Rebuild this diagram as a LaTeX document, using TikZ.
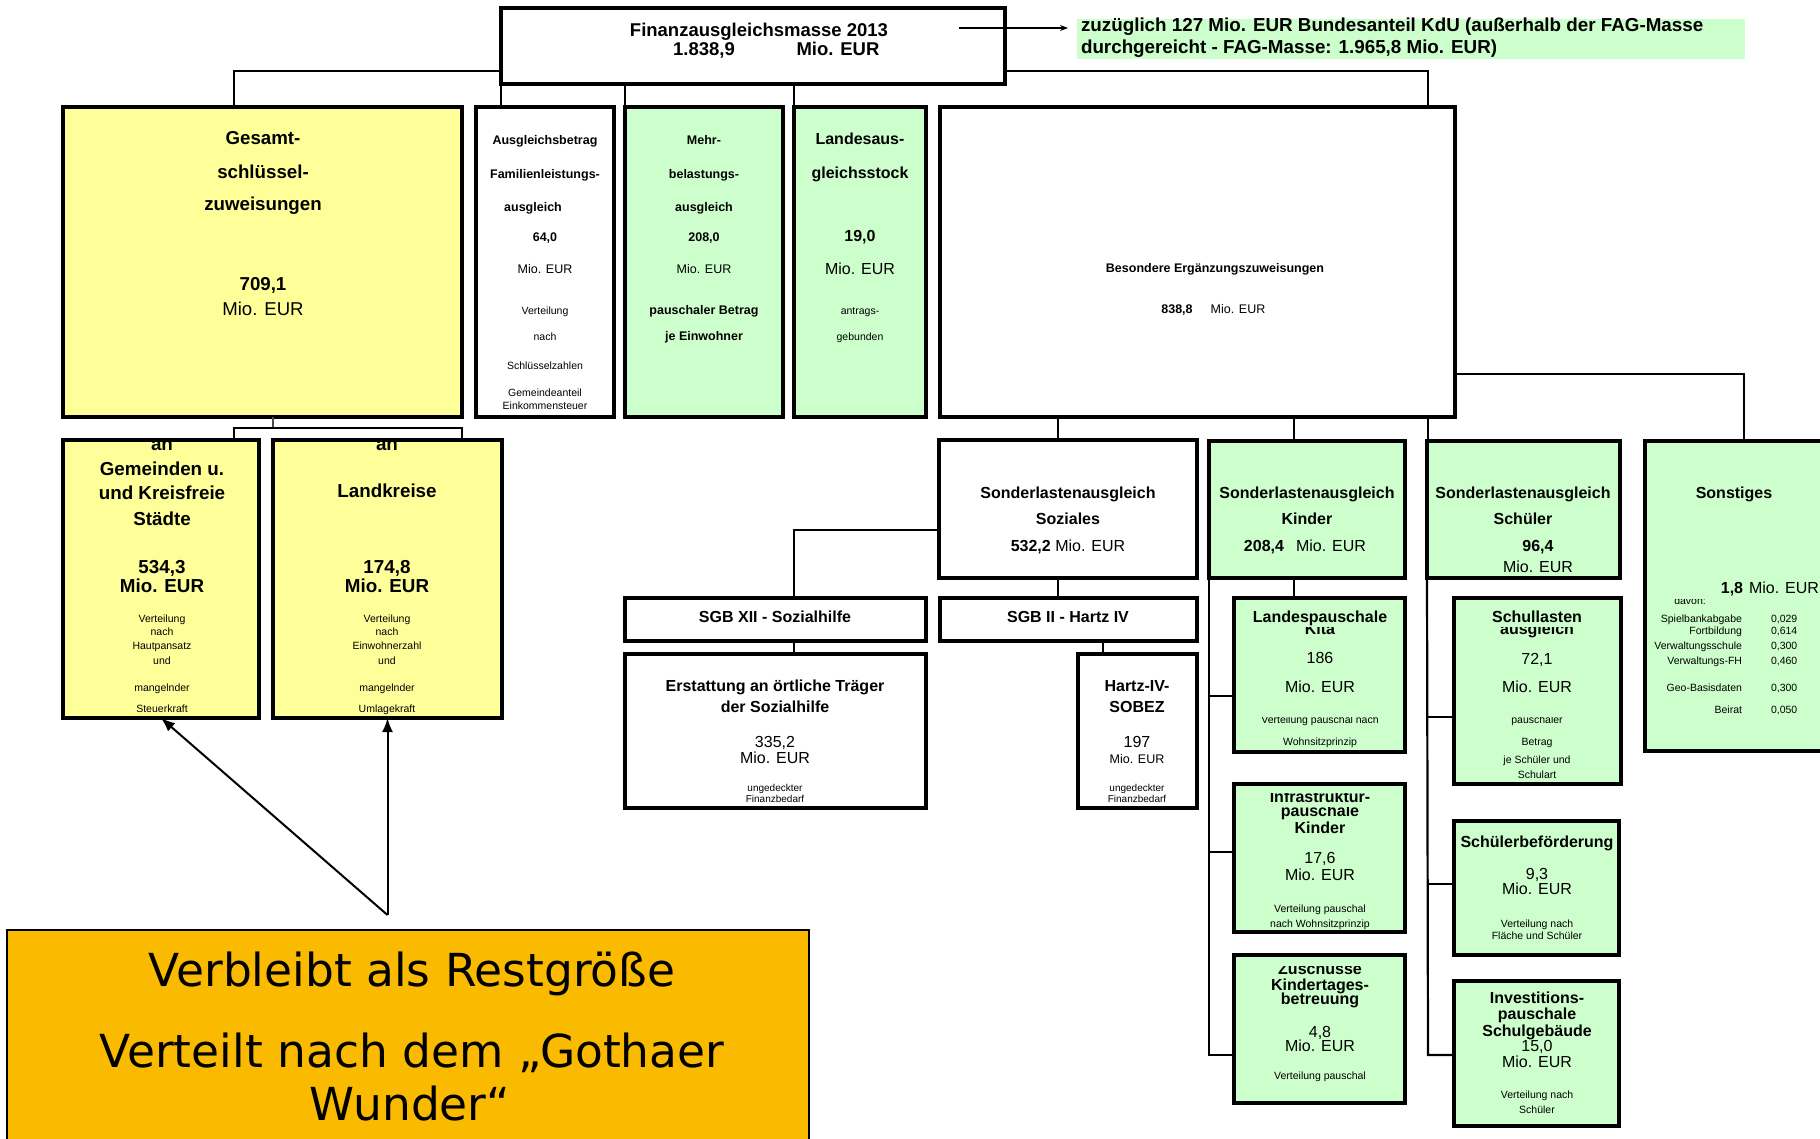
\documentclass[tikz,border=0pt]{standalone}
\usepackage{fontspec}
\setmainfont{Liberation Sans}
\newfontfamily\restfont{DejaVu Sans}
\usetikzlibrary{arrows.meta}
\definecolor{ylw}{RGB}{255,255,153}
\definecolor{grn}{RGB}{204,255,204}
\definecolor{org}{RGB}{250,186,0}
\newcounter{tn}
\newcommand\Tx[3][]{\stepcounter{tn}\node[tx,#1] (t\arabic{tn}) at (#2) {#3};}
\newcommand\Bx[6]{\node[bx,fill=#6,minimum width={#4-#2},minimum height={#5-#3}] (#1) at ({(#2+#4)/2},{(#3+#5)/2}) {};}
\newcommand\CTx[4][]{\begin{scope}\clip (0,#3) rectangle (1820,1138);\Tx[#1]{#2}{#4}\end{scope}}
\tikzset{
  bx/.style={draw, line width=3.3pt, rectangle, inner sep=0pt, outer sep=0pt},
  cn/.style={line width=2.2pt},
  tx/.style={anchor=base, inner sep=0pt, outer sep=0pt, align=center},
  B/.style={font=\fontsize{#1}{#1}\selectfont\bfseries},
  N/.style={font=\fontsize{#1}{#1}\selectfont},
}
\begin{document}
\begin{tikzpicture}[x=1pt,y=-1pt]
\useasboundingbox (0,0) rectangle (1820,1138);
\fill[white] (0,0) rectangle (1820,1138);
% boxes
\Bx{top}{501}{8}{1005}{84}{white}
\draw[line width=4pt] (top.south west) rectangle (top.north east);
\node[fill=grn, minimum width=668, minimum height=40, inner sep=0pt] (note) at (1411,39) {};
\Bx{ges}{63}{107}{462}{417}{ylw}
\Bx{agb}{476}{107}{614}{417}{white}
\Bx{mehr}{625}{107}{783}{417}{grn}
\Bx{lags}{794}{107}{926}{417}{grn}
\Bx{bez}{940}{107}{1455}{417}{white}
\Bx{gem}{63}{440}{259}{718}{ylw}
\Bx{lk}{273}{440}{502}{718}{ylw}
\Bx{soz}{939}{440}{1197}{578}{white}
\Bx{kin}{1209}{441}{1405}{578}{grn}
\Bx{sch}{1427}{441}{1620}{578}{grn}
\Bx{son}{1645}{441}{1830}{751}{grn}
\Bx{sgbA}{625}{598}{926}{641}{white}
\Bx{sgbB}{940}{598}{1197}{641}{white}
\Bx{erst}{625}{654}{926}{808}{white}
\Bx{hartz}{1078}{654}{1197}{808}{white}
\Bx{lpk}{1234}{598}{1405}{752}{grn}
\Bx{infra}{1234}{784}{1405}{932}{grn}
\Bx{zus}{1234}{955}{1405}{1103}{grn}
\Bx{schl}{1454}{598}{1621}{784}{grn}
\Bx{sbef}{1454}{821}{1619}{955}{grn}
\Bx{inv}{1454}{981}{1619}{1126}{grn}
\node[draw, line width=1.5pt, fill=org, minimum width=802, minimum height=230, inner sep=0pt] (rest) at (408,1045) {};
% connectors
\coordinate (b1) at (234,71);
\draw[cn] (top.west |- b1) -| (ges.north -| b1);
\draw[cn] (top.south west) -- (top.south west |- agb.north);
\draw[cn] (mehr.north west |- top.south) -- (mehr.north west);
\draw[cn] (lags.north west |- top.south) -- (lags.north west);
\coordinate (b2) at (1428,71);
\draw[cn] (top.east |- b2) -| (bez.north -| b2);
\coordinate (b3) at (273,428);
\coordinate (b3l) at (234,428);
\coordinate (b3r) at (462,428);
\draw[line width=1.3pt, black!70] (ges.south -| b3) -- (b3);
\draw[cn] (gem.north -| b3l) -- (b3l) -- (b3r) -- (lk.north -| b3r);
\coordinate (b4) at (1744,374);
\draw[cn] (bez.east |- b4) -| (son.north -| b4);
\coordinate (b5) at (794,530);
\draw[cn] (soz.west |- b5) -| (sgbA.north -| b5);
\draw[cn] (sgbA.south -| b5) -- (erst.north -| b5);
\coordinate (b6) at (1058,500);
\draw[cn] (bez.south -| b6) -- (soz.north -| b6);
\draw[cn] (soz.south -| b6) -- (sgbB.north -| b6);
\coordinate (b7) at (1103,650);
\draw[cn] (sgbB.south -| b7) -- (hartz.north -| b7);
\coordinate (b8) at (1294,500);
\draw[cn] (bez.south -| b8) -- (kin.north -| b8);
\draw[cn] (kin.south -| b8) -- (lpk.north -| b8);
\coordinate (b9) at (1428,500);
\draw[cn] (bez.south -| b9) -- (sch.north -| b9);
\coordinate (k1) at (1209,696);
\coordinate (k2) at (1209,852);
\coordinate (k3) at (1209,1055);
\draw[cn] (kin.south west) -- (k3) -- (zus.west |- k3);
\draw[cn] (k1) -- (lpk.west |- k1);
\draw[cn] (k2) -- (infra.west |- k2);
\coordinate (s1) at (1428,717);
\coordinate (s2) at (1428,884);
\coordinate (s3) at (1428,1055);
\draw[cn] (sch.south west) -- (s3) -- (inv.west |- s3);
\draw[cn] (s1) -- (schl.west |- s1);
\draw[cn] (s2) -- (sbef.west |- s2);
% arrows
\coordinate (astart) at (959,28);
\coordinate (aend) at (1068,28);
\draw[line width=1.3pt, -{Stealth[length=8pt,width=6pt]}] (astart) -- (aend);
\coordinate (rs) at (lk.south |- 0,915);
\draw[line width=2pt, -{Latex[length=14pt,width=11pt]}] (rs) -- (gem.south);
\draw[line width=2pt, -{Latex[length=14pt,width=11pt]}] (rs) -- (lk.south);
% top texts
\Tx[B=18.5]{759,36}{Finanzausgleichsmasse 2013}
\Tx[B=18.5]{704,55}{1.838,9}
\Tx[B=18.5]{838,55}{Mio. EUR}
\Tx[B=18.8,anchor=base west]{1081,31}{zuzüglich 127 Mio. EUR Bundesanteil KdU (außerhalb der FAG-Masse}
\Tx[B=18.8,anchor=base west]{1081,53}{durchgereicht - FAG-Masse: 1.965,8 Mio. EUR)}
% Gesamt
\Tx[B=18.7]{263,144}{Gesamt-}
\Tx[B=18.7]{263,178}{schlüssel-}
\Tx[B=18.7]{263,210}{zuweisungen}
\Tx[B=18.7]{263,290}{709,1}
\Tx[N=18.6]{263,315}{Mio. EUR}
% Ausgleichsbetrag
\Tx[B=12.5]{545,144}{Ausgleichsbetrag}
\Tx[B=12.5]{545,178}{Familienleistungs-}
\Tx[B=12.5]{533,211}{ausgleich}
\Tx[B=12.5]{545,241}{64,0}
\Tx[N=12.5]{545,273}{Mio. EUR}
\Tx[N=10.5]{545,314}{Verteilung}
\Tx[N=10.5]{545,340}{nach}
\Tx[N=10.5]{545,369}{Schlüsselzahlen}
\Tx[N=10.5]{545,396}{Gemeindeanteil}
\Tx[N=10.5]{545,409}{Einkommensteuer}
% Mehrbelastung
\Tx[B=12.5]{704,144}{Mehr-}
\Tx[B=12.5]{704,178}{belastungs-}
\Tx[B=12.5]{704,211}{ausgleich}
\Tx[B=12.5]{704,241}{208,0}
\Tx[N=12.5]{704,273}{Mio. EUR}
\Tx[B=12.5]{704,314}{pauschaler Betrag}
\Tx[B=12.5]{704,340}{je Einwohner}
% Landesausgleichsstock
\Tx[B=16]{860,144}{Landesaus-}
\Tx[B=16]{860,178}{gleichsstock}
\Tx[B=16]{860,241}{19,0}
\Tx[N=16]{860,274}{Mio. EUR}
\Tx[N=10.5]{860,314}{antrags-}
\Tx[N=10.5]{860,340}{gebunden}
% BEZ
\Tx[B=12.5]{1215,272}{Besondere Ergänzungszuweisungen}
\Tx[B=12.5]{1177,313}{838,8}
\Tx[N=12.5]{1238,313}{Mio. EUR}
% Gemeinden
\CTx[B=18.8]{162,450}{442}{an}
\Tx[B=18.8]{162,475}{Gemeinden u.}
\Tx[B=18.8]{162,499}{und Kreisfreie}
\Tx[B=18.8]{162,525}{Städte}
\Tx[B=18.8]{162,573}{534,3}
\Tx[B=18.8]{162,592}{Mio. EUR}
\Tx[N=10.5]{162,622}{Verteilung}
\Tx[N=10.5]{162,635}{nach}
\Tx[N=10.5]{162,649}{Hautpansatz}
\Tx[N=10.5]{162,664}{und}
\Tx[N=10.5]{162,691}{mangelnder}
\Tx[N=10.5]{162,712}{Steuerkraft}
% Landkreise
\CTx[B=18.8]{387,450}{442}{an}
\Tx[B=18.8]{387,497}{Landkreise}
\Tx[B=18.8]{387,573}{174,8}
\Tx[B=18.8]{387,592}{Mio. EUR}
\Tx[N=10.5]{387,622}{Verteilung}
\Tx[N=10.5]{387,635}{nach}
\Tx[N=10.5]{387,649}{Einwohnerzahl}
\Tx[N=10.5]{387,664}{und}
\Tx[N=10.5]{387,691}{mangelnder}
\Tx[N=10.5]{387,712}{Umlagekraft}
% Soziales
\Tx[B=16]{1068,498}{Sonderlastenausgleich}
\Tx[B=16]{1068,524}{Soziales}
\Tx[N=16]{1068,551}{{\bfseries 532,2} Mio. EUR}
\Tx[B=16]{775,622}{SGB XII - Sozialhilfe}
\Tx[B=16]{1068,622}{SGB II - Hartz IV}
\Tx[B=16]{775,691}{Erstattung an örtliche Träger}
\Tx[B=16]{775,712}{der Sozialhilfe}
\Tx[N=16]{775,747}{335,2}
\Tx[N=16]{775,763}{Mio. EUR}
\Tx[N=10]{775,791}{ungedeckter}
\Tx[N=10]{775,802}{Finanzbedarf}
\Tx[B=16]{1137,691}{Hartz-IV-}
\Tx[B=16]{1137,712}{SOBEZ}
\Tx[N=16]{1137,747}{197}
\Tx[N=12.5]{1137,763}{Mio. EUR}
\Tx[N=10]{1137,791}{ungedeckter}
\Tx[N=10]{1137,802}{Finanzbedarf}
% Kinder
\Tx[B=16]{1307,498}{Sonderlastenausgleich}
\Tx[B=16]{1307,524}{Kinder}
\Tx[B=16]{1264,551}{208,4}
\Tx[N=16]{1331,551}{Mio. EUR}
% Schueler
\Tx[B=16]{1523,498}{Sonderlastenausgleich}
\Tx[B=16]{1523,524}{Schüler}
\Tx[B=16]{1538,551}{96,4}
\Tx[N=16]{1538,572}{Mio. EUR}
% Sonstiges
\Tx[B=16]{1734,498}{Sonstiges}
\CTx[N=10.5]{1690,604}{599}{davon:}
\Tx[B=16]{1732,593}{1,8}
\Tx[N=16]{1784,593}{Mio. EUR}
\Tx[N=10.5,anchor=base east]{1742,622}{Spielbankabgabe}
\Tx[N=10.5,anchor=base east]{1742,634}{Fortbildung}
\Tx[N=10.5,anchor=base east]{1742,649}{Verwaltungsschule}
\Tx[N=10.5,anchor=base east]{1742,664}{Verwaltungs-FH}
\Tx[N=10.5,anchor=base east]{1742,691}{Geo-Basisdaten}
\Tx[N=10.5,anchor=base east]{1742,713}{Beirat}
\Tx[N=10.5,anchor=base west]{1771,622}{0,029}
\Tx[N=10.5,anchor=base west]{1771,634}{0,614}
\Tx[N=10.5,anchor=base west]{1771,649}{0,300}
\Tx[N=10.5,anchor=base west]{1771,664}{0,460}
\Tx[N=10.5,anchor=base west]{1771,691}{0,300}
\Tx[N=10.5,anchor=base west]{1771,713}{0,050}
% Landespauschale Kita
\Tx[B=16]{1320,622}{Landespauschale}
\CTx[B=16]{1320,634}{627}{Kita}
\Tx[N=16]{1320,663}{186}
\Tx[N=16]{1320,692}{Mio. EUR}
\CTx[N=10.5]{1320,723}{717.5}{Verteilung pauschal nach}
\Tx[N=10.5]{1320,745}{Wohnsitzprinzip}
% Schullasten
\Tx[B=16]{1537,622}{Schullasten}
\CTx[B=16]{1537,634}{627}{ausgleich}
\Tx[N=16]{1537,664}{72,1}
\Tx[N=16]{1537,692}{Mio. EUR}
\CTx[N=10.5]{1537,723}{717.5}{pauschaler}
\Tx[N=10.5]{1537,745}{Betrag}
\Tx[N=10.5]{1537,763}{je Schüler und}
\Tx[N=10.5]{1537,778}{Schulart}
% Infrastruktur
\CTx[B=16]{1320,802}{793}{Infrastruktur-}
\CTx[B=16]{1320,816}{807}{pauschale}
\Tx[B=16]{1320,833}{Kinder}
\Tx[N=16]{1320,863}{17,6}
\Tx[N=16]{1320,880}{Mio. EUR}
\Tx[N=10.5]{1320,912}{Verteilung pauschal}
\Tx[N=10.5]{1320,927}{nach Wohnsitzprinzip}
% Zuschuesse
\CTx[B=16]{1320,974}{966}{Zuschüsse}
\Tx[B=16]{1320,990}{Kindertages-}
\Tx[B=16]{1320,1004}{betreuung}
\Tx[N=16]{1320,1037}{4,8}
\Tx[N=16]{1320,1051}{Mio. EUR}
\Tx[N=10.5]{1320,1079}{Verteilung pauschal}
% Schuelerbefoerderung
\Tx[B=16]{1537,847}{Schülerbeförderung}
\Tx[N=16]{1537,879}{9,3}
\Tx[N=16]{1537,894}{Mio. EUR}
\Tx[N=10.5]{1537,927}{Verteilung nach}
\Tx[N=10.5]{1537,939}{Fläche und Schüler}
% Investitionspauschale
\Tx[B=16]{1537,1003}{Investitions-}
\Tx[B=16]{1537,1019}{pauschale}
\Tx[B=16]{1537,1036}{Schulgebäude}
\Tx[N=16]{1537,1051}{15,0}
\Tx[N=16]{1537,1067}{Mio. EUR}
\Tx[N=10.5]{1537,1098}{Verteilung nach}
\Tx[N=10.5]{1537,1113}{Schüler}
% Restgroesse
\Tx[font=\restfont\fontsize{45.5}{45}\selectfont]{412,986}{Verbleibt als Restgröße}
\Tx[font=\restfont\fontsize{45.5}{45}\selectfont]{412,1067}{Verteilt nach dem „Gothaer}
\Tx[font=\restfont\fontsize{45.5}{45}\selectfont]{410,1120}{Wunder“}
\end{tikzpicture}
\end{document}
